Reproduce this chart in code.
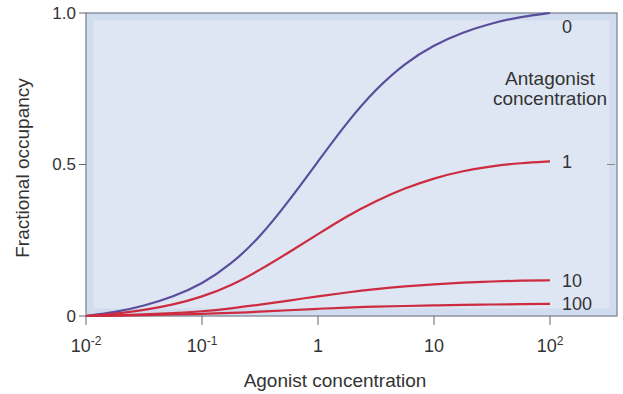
<!DOCTYPE html>
<html>
<head>
<meta charset="utf-8">
<script src="https://cdn.jsdelivr.net/npm/d3@7"></script>
<style>
  body { margin: 0; background: #fff; }
  text { font-family: "Liberation Sans", Arial, sans-serif; fill: #333; }
</style>
</head>
<body>
<div id="chart"></div>
<script>
// agonist concentrations (quarter-decade steps)
const agonist = [0.01, 0.0178, 0.0316, 0.0562, 0.1, 0.178, 0.316, 0.562, 1,
  1.78, 3.16, 5.62, 10, 17.8, 31.6, 56.2, 100];
// fractional occupancy per antagonist concentration
const occ0 = [0, 0.012, 0.033, 0.063, 0.105, 0.17, 0.26, 0.38, 0.51,
  0.64, 0.75, 0.835, 0.895, 0.937, 0.967, 0.988, 1.0];
const occ1 = [0, 0.007, 0.019, 0.037, 0.063, 0.1, 0.152, 0.21, 0.27,
  0.33, 0.38, 0.422, 0.455, 0.479, 0.495, 0.505, 0.51];
const occ10 = [0, 0.002, 0.005, 0.009, 0.015, 0.025, 0.037, 0.051, 0.065,
  0.078, 0.089, 0.098, 0.105, 0.11, 0.114, 0.117, 0.118];
const occ100 = [0, 0.001, 0.003, 0.005, 0.007, 0.01, 0.014, 0.019, 0.024,
  0.028, 0.031, 0.033, 0.035, 0.037, 0.038, 0.039, 0.04];
const antagonist = ['0', '1', '10', '100'];
const xTicks = [0.01, 0.1, 1, 10, 100];
const xTickLabels = [['10', '-2'], ['10', '-1'], ['1', ''], ['10', ''], ['10', '2']];
const yTicks = [0, 0.5, 1.0];
const yTickLabels = ['0', '0.5', '1.0'];

const width = 623;
const height = 394;
const margin = { top: 13, right: 6, bottom: 78, left: 86 };

const x = d3
  .scaleLog()
  .domain([0.01, 378])
  .range([margin.left, width - margin.right]);
const y = d3
  .scaleLinear()
  .domain([0, 1])
  .range([height - margin.bottom, margin.top]);

const svg = d3
  .select('#chart')
  .append('svg')
  .attr('width', width)
  .attr('height', height);

// plot panel
const pw = x.range()[1] - x.range()[0];
const ph = y.range()[0] - y.range()[1];
svg
  .append('rect')
  .attr('x', margin.left)
  .attr('y', margin.top)
  .attr('width', pw)
  .attr('height', ph)
  .attr('fill', '#dfe6f3');
svg
  .append('rect')
  .attr('x', margin.left + 4)
  .attr('y', margin.top + 4)
  .attr('width', pw - 8)
  .attr('height', ph - 8)
  .attr('fill', 'none')
  .attr('stroke', '#cdd9ed')
  .attr('stroke-width', 7)
  .attr('opacity', 0.8);
svg
  .append('rect')
  .attr('x', margin.left)
  .attr('y', margin.top)
  .attr('width', pw)
  .attr('height', ph)
  .attr('fill', 'none')
  .attr('stroke', '#7d8593')
  .attr('stroke-width', 1.3);

// curves
const series = [occ0, occ1, occ10, occ100];
const line = d3
  .line()
  .x((d, i) => x(agonist[i]))
  .y(d => y(d))
  .curve(d3.curveBasis);

svg
  .append('g')
  .attr('fill', 'none')
  .selectAll('path')
  .data(series)
  .join('path')
  .attr('stroke', (d, i) => (i === 0 ? '#5a4e9c' : '#cc2b40'))
  .attr('stroke-width', 2.2)
  .attr('d', line);

// x axis
const xAxis = svg.append('g').attr('transform', `translate(0,${y(0)})`);
xAxis
  .selectAll('line')
  .data(xTicks)
  .join('line')
  .attr('x1', d => x(d))
  .attr('x2', d => x(d))
  .attr('y1', 0)
  .attr('y2', 9)
  .attr('stroke', '#666');
const xl = xAxis
  .selectAll('text')
  .data(xTicks)
  .join('text')
  .attr('x', d => x(d))
  .attr('y', 36)
  .attr('text-anchor', 'middle')
  .attr('font-size', 18);
xl.append('tspan').text((d, i) => xTickLabels[i][0]);
xl.append('tspan')
  .attr('dy', -7)
  .attr('font-size', 12)
  .text((d, i) => xTickLabels[i][1]);

// y axis
const yAxis = svg.append('g').attr('transform', `translate(${margin.left},0)`);
yAxis
  .selectAll('line')
  .data(yTicks)
  .join('line')
  .attr('x1', -7)
  .attr('x2', 0)
  .attr('y1', d => y(d))
  .attr('y2', d => y(d))
  .attr('stroke', '#666');
yAxis
  .selectAll('text')
  .data(yTicks)
  .join('text')
  .attr('x', -10)
  .attr('y', d => y(d))
  .attr('dy', '0.35em')
  .attr('text-anchor', 'end')
  .attr('font-size', 17)
  .text((d, i) => yTickLabels[i]);
// small inner tick at 0.5 on the right side
svg
  .append('line')
  .attr('x1', x.range()[1] - 10)
  .attr('x2', x.range()[1] - 2)
  .attr('y1', y(0.5))
  .attr('y2', y(0.5))
  .attr('stroke', '#888');

// axis titles
svg
  .append('text')
  .attr('x', 335)
  .attr('y', 387)
  .attr('text-anchor', 'middle')
  .attr('font-size', 19)
  .text('Agonist concentration');
svg
  .append('text')
  .attr('transform', `translate(29,168) rotate(-90)`)
  .attr('text-anchor', 'middle')
  .attr('font-size', 19)
  .text('Fractional occupancy');

// curve labels
svg
  .append('g')
  .selectAll('text')
  .data(series)
  .join('text')
  .attr('x', x(100) + 12)
  .attr('y', (d, i) => y(d[d.length - 1]))
  .attr('dy', (d, i) => (i === 0 ? '1.1em' : '0.35em'))
  .attr('font-size', 18)
  .text((d, i) => antagonist[i]);

const legendTitle = svg
  .append('text')
  .attr('x', 550)
  .attr('y', 85)
  .attr('text-anchor', 'middle')
  .attr('font-size', 19);
legendTitle.append('tspan').attr('x', 550).text('Antagonist');
legendTitle.append('tspan').attr('x', 550).attr('dy', 20).text('concentration');
</script>
</body>
</html>
